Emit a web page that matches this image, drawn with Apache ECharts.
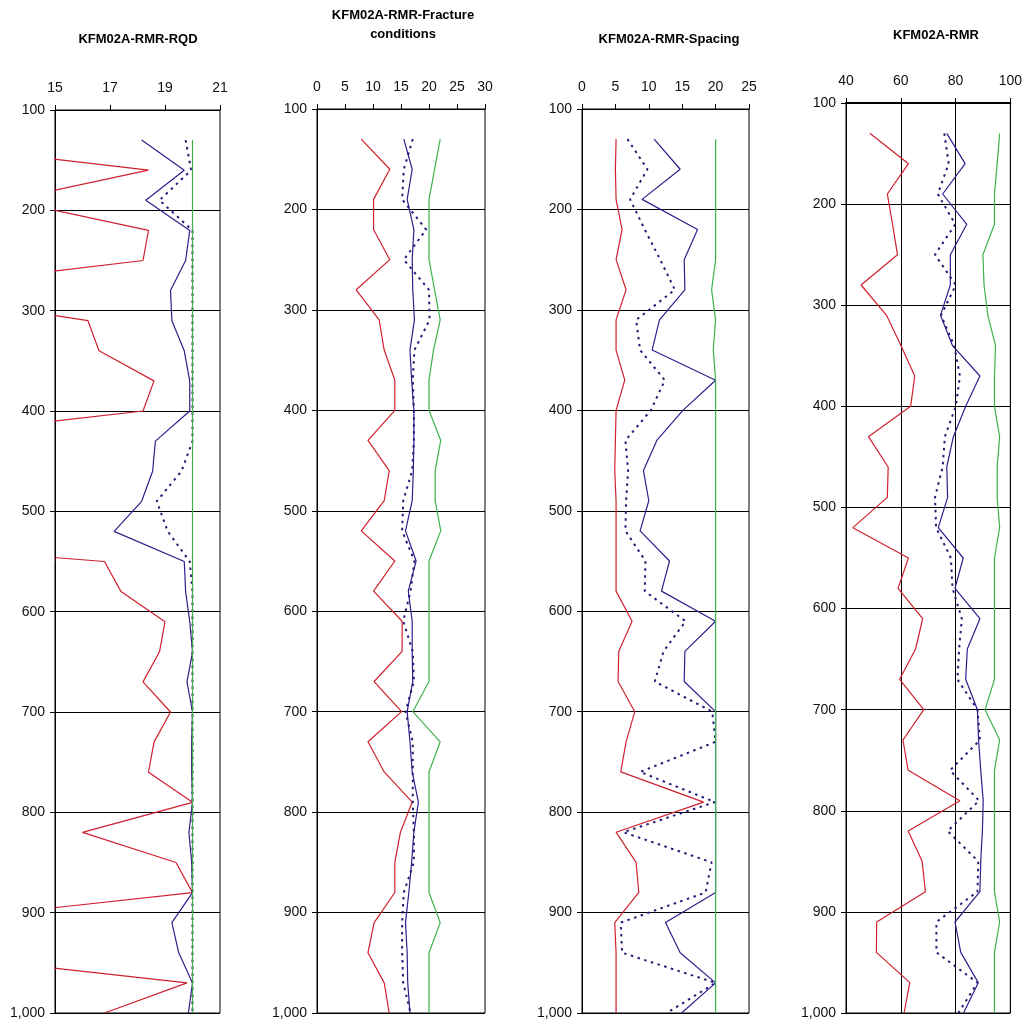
<!DOCTYPE html>
<html>
<head>
<meta charset="utf-8">
<title>KFM02A RMR</title>
<script src="https://cdn.jsdelivr.net/npm/echarts@6/dist/echarts.min.js"></script>
<style>
  html, body { margin: 0; padding: 0; background: #fff; }
  #chart { width: 1025px; height: 1021px; }
</style>
</head>
<body>
<div id="chart"></div>
<script>
// Borehole depth (m) of each 30 m section
const depth = [130, 160, 190, 220, 250, 280, 310, 340, 370, 400,
               430, 460, 490, 520, 550, 580, 610, 640, 670, 700,
               730, 760, 790, 820, 850, 880, 910, 940, 970, 1000];

// RQD rating
const rqdMin    = [9.0, 18.4, 13.3, 18.4, 18.2, 9.1, 16.2, 16.6, 18.6, 18.2,
                   8.5, 5.0, 4.0, 3.0, 16.8, 17.4, 19.0, 18.8, 18.2, 19.2,
                   18.6, 18.4, 20.0, 16.0, 19.4, 20.0, 10.0, 10.0, 19.8, 16.8];
const rqdMean   = [18.15, 19.7, 18.3, 19.9, 19.75, 19.2, 19.25, 19.7, 19.9, 19.9,
                   18.65, 18.55, 18.15, 17.15, 19.7, 19.75, 19.9, 20.0, 19.8, 20.0,
                   19.97, 19.97, 20.0, 19.87, 19.97, 20.0, 19.25, 19.5, 20.0, 19.85];
const rqdMedian = [19.75, 19.95, 18.8, 20, 20, 20, 20, 20, 20, 20,
                   20, 19.6, 18.7, 19.1, 19.9, 20, 20, 20, 20, 20,
                   20, 20, 20, 20, 20, 20, 20, 20, 20, 20];
const rqdMax    = [20, 20, 20, 20, 20, 20, 20, 20, 20, 20,
                   20, 20, 20, 20, 20, 20, 20, 20, 20, 20,
                   20, 20, 20, 20, 20, 20, 20, 20, 20, 20];

// Fracture conditions rating
const fcMin    = [7.9, 13.0, 10.1, 10.1, 13.0, 7.0, 11.1, 12.0, 13.9, 13.9,
                  9.1, 12.9, 12.0, 7.9, 13.9, 10.1, 15.2, 15.2, 10.2, 15.1,
                  9.1, 12.0, 17.0, 14.9, 13.9, 13.9, 10.2, 9.1, 12.0, 12.9];
const fcMean   = [15.5, 17.0, 16.1, 17.3, 17.0, 17.1, 17.4, 16.6, 16.9, 17.3,
                  17.3, 17.2, 17.0, 15.8, 17.7, 16.3, 17.0, 17.0, 17.1, 16.1,
                  16.6, 17.0, 18.1, 17.3, 16.9, 16.4, 15.8, 16.1, 16.2, 16.6];
const fcMedian = [17.1, 15.5, 15.2, 19.5, 15.5, 20.0, 20.1, 17.4, 17.1, 17.3,
                  17.3, 17.0, 15.4, 15.2, 17.4, 16.7, 15.4, 17.1, 17.3, 15.8,
                  17.1, 17.1, 17.1, 17.3, 17.3, 15.5, 15.2, 15.2, 15.4, 16.7];
const fcMax    = [22.0, 21.0, 20.0, 20.0, 20.0, 21.0, 22.0, 20.8, 20.0, 20.0,
                  22.1, 21.1, 21.1, 22.1, 20.0, 20.0, 20.0, 20.0, 20.0, 17.1,
                  22.0, 20.0, 20.0, 20.0, 20.0, 20.0, 22.0, 20.0, 20.0, 20.0];

// Spacing rating
const spMin    = [5.1, 5.0, 5.1, 6.0, 5.1, 6.6, 5.1, 5.1, 6.4, 5.1,
                  5.0, 4.9, 5.1, 5.1, 5.1, 5.1, 7.5, 5.5, 5.4, 7.9,
                  6.6, 5.8, 18.2, 5.1, 8.1, 8.5, 4.9, 5.1, 5.1, 5.1];
const spMean   = [10.8, 14.7, 9.0, 17.3, 15.3, 15.4, 11.6, 10.5, 20.0, 15.1,
                  11.2, 9.2, 10.0, 8.7, 13.1, 11.9, 20.0, 15.4, 15.3, 20.0,
                  20.0, 20.0, 20.0, 20.0, 20.0, 20.0, 12.5, 14.7, 20.0, 14.9];
const spMedian = [6.8, 9.8, 7.2, 9.4, 11.7, 13.9, 8.1, 8.7, 12.4, 10.3,
                  6.5, 6.9, 6.6, 6.5, 9.5, 9.4, 15.5, 12.2, 10.9, 19.5,
                  20.0, 8.7, 19.9, 6.2, 19.4, 18.5, 5.8, 6.0, 20.0, 12.7];
const spMax    = [20, 20, 20, 20, 20, 19.4, 20, 19.65, 20, 20,
                  20, 20, 20, 20, 20, 20, 20, 20, 20, 20,
                  20, 20, 20, 20, 20, 20, 20, 20, 20, 20];

// Total RMR
const rmrMin    = [48.7, 62.8, 55.1, 57.0, 58.8, 45.5, 54.8, 60.1, 65.1, 63.6,
                   48.2, 55.4, 55.1, 42.5, 62.8, 59.0, 68.0, 65.4, 59.6, 68.4,
                   60.8, 62.7, 81.6, 62.7, 67.8, 69.0, 51.2, 51.1, 63.3, 61.2];
const rmrMean   = [76.8, 83.5, 75.3, 84.1, 78.1, 78.1, 74.5, 78.9, 88.9, 83.7,
                   79.2, 76.8, 77.1, 73.7, 82.8, 79.8, 88.9, 84.3, 83.7, 88.0,
                   88.4, 89.2, 90.1, 89.8, 89.2, 88.9, 79.8, 81.9, 88.3, 82.9];
const rmrMedian = [75.9, 77.5, 73.5, 79.9, 72.5, 80.1, 74.7, 79.5, 81.6, 80.1,
                   76.1, 75.3, 72.5, 72.9, 78.3, 78.9, 82.3, 81.3, 80.7, 88.0,
                   88.9, 78.0, 88.6, 77.1, 88.3, 88.0, 73.0, 73.0, 88.0, 81.0];
const rmrMax    = [96.1, 95.2, 94.2, 94.2, 90.0, 90.4, 91.8, 94.6, 94.2, 94.2,
                   96.1, 95.2, 95.2, 96.1, 94.2, 94.2, 94.2, 94.2, 94.2, 90.8,
                   96.1, 94.2, 94.2, 94.2, 94.2, 94.2, 96.1, 94.2, 94.2, 94.2];

// Panel titles and rating axis ranges
const titles = ['KFM02A-RMR-RQD', 'KFM02A-RMR-Fracture\nconditions', 'KFM02A-RMR-Spacing', 'KFM02A-RMR'];
const xRanges = [[15, 21, 2], [0, 30, 5], [0, 25, 5], [40, 100, 20]];
const panelData = [
  [rqdMin, rqdMean, rqdMedian, rqdMax],
  [fcMin, fcMean, fcMedian, fcMax],
  [spMin, spMean, spMedian, spMax],
  [rmrMin, rmrMean, rmrMedian, rmrMax]
];
const seriesNames = ['Min', 'Mean', 'Median', 'Max'];

const FONT = 'Liberation Sans, Arial, Helvetica, sans-serif';
const RED = '#d0202e', BLUE = '#2e1f8c', NAVY = '#241c78', GREEN = '#3fb24c';

const grids = [
  { left: 55,  top: 110, width: 165, height: 903 },
  { left: 317, top: 109, width: 168, height: 904 },
  { left: 582, top: 109, width: 167, height: 904 },
  { left: 846, top: 103, width: 166, height: 910 }
];
const titlePos = [[138, 39], [403, 25], [669, 39], [936, 35]];

const pairs = vals => vals.map((v, i) => [v, depth[i]]);

const option = {
  animation: false,
  backgroundColor: '#fff',
  grid: grids.map(g => Object.assign({ show: true, borderColor: '#000', borderWidth: 1, containLabel: false }, g)),
  graphic: titles.map((t, i) => ({
    type: 'text',
    x: titlePos[i][0],
    y: titlePos[i][1],
    style: {
      text: t,
      font: 'bold 13px ' + FONT,
      fill: '#000',
      textAlign: 'center',
      textVerticalAlign: 'middle',
      lineHeight: 19
    }
  })),
  xAxis: xRanges.map((r, i) => ({
    type: 'value',
    gridIndex: i,
    position: 'top',
    min: r[0],
    max: r[1],
    interval: r[2],
    axisLine: { show: true, lineStyle: { color: '#000', width: i === 3 ? 2 : 1 } },
    axisTick: { show: true, inside: false, length: 5, lineStyle: { color: '#000' } },
    axisLabel: { color: '#111', fontSize: 14, fontFamily: FONT, margin: 15 },
    splitLine: { show: i === 3, lineStyle: { color: '#000', width: 1 } }
  })),
  yAxis: grids.map((g, i) => ({
    type: 'value',
    gridIndex: i,
    inverse: true,
    min: 100,
    max: 1000,
    interval: 100,
    axisLine: { show: true, lineStyle: { color: '#000' } },
    axisTick: { show: true, inside: false, length: 5, lineStyle: { color: '#000' } },
    axisLabel: {
      color: '#111', fontSize: 14, fontFamily: FONT, margin: 10,
      formatter: v => v >= 1000 ? Math.floor(v / 1000) + ',' + String(v % 1000).padStart(3, '0') : String(v)
    },
    splitLine: { show: true, lineStyle: { color: '#000', width: 1 } }
  })),
  series: []
};

const styles = [
  { color: RED, width: 1.2, type: 'solid' },
  { color: BLUE, width: 1.2, type: 'solid' },
  { color: NAVY, width: 2, type: [2.5, 4.5] },
  { color: GREEN, width: 1.2, type: 'solid' }
];
const drawOrder = [3, 0, 2, 1];

panelData.forEach((set, p) => {
  drawOrder.forEach(k => {
    option.series.push({
      name: seriesNames[k],
      type: 'line',
      xAxisIndex: p,
      yAxisIndex: p,
      data: pairs(set[k]),
      symbol: 'none',
      clip: true,
      silent: true,
      lineStyle: styles[k],
      z: 3 + k
    });
  });
});

const chart = echarts.init(document.getElementById('chart'), null, { renderer: 'canvas' });
chart.setOption(option);
</script>
</body>
</html>
